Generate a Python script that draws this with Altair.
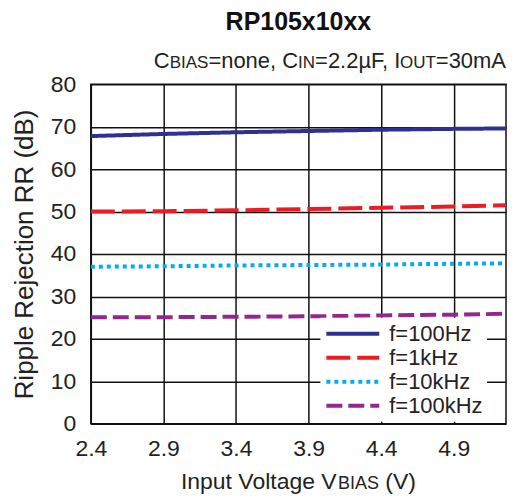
import altair as alt
import pandas as pd

vbias = [2.4, 2.9, 3.4, 3.9, 4.4, 4.9, 5.26]
rr_100hz = [67.8, 68.3, 68.7, 69.0, 69.3, 69.5, 69.6]
rr_1khz = [50.0, 50.1, 50.3, 50.6, 50.9, 51.2, 51.5]
rr_10khz = [37.0, 37.1, 37.3, 37.4, 37.5, 37.7, 37.8]
rr_100khz = [25.1, 25.1, 25.2, 25.3, 25.5, 25.7, 25.9]
series = ["f=100Hz", "f=1kHz", "f=10kHz", "f=100kHz"]
colors = ["#2E3192", "#ED1C24", "#00AEEF", "#92278F"]
dashes = [[1, 0], [24, 7], [4, 4], [16, 6]]
x_ticks = [2.4, 2.9, 3.4, 3.9, 4.4, 4.9]
y_ticks = [0, 10, 20, 30, 40, 50, 60, 70, 80]
title_text = "RP105x10xx"
# (text, is_small_caps)
subtitle_parts = [("C", False), ("BIAS", True), ("=none, C", False), ("IN", True),
                  ("=2.2µF, I", False), ("OUT", True), ("=30mA", False)]
xtitle_parts = [("Input Voltage V", False), ("BIAS", True), (" (V)", False)]
ytitle_text = "Ripple Rejection RR (dB)"

rows = []
for name, vals in zip(series, [rr_100hz, rr_1khz, rr_10khz, rr_100khz]):
    for x, y in zip(vbias, vals):
        rows.append({"V": x, "RR": y, "f": name})
df = pd.DataFrame(rows)

font = "Liberation Sans"
W, H = 416, 340
INK = "#222"

# approximate advance widths (em) for laying out small-caps runs
CW = {'C': .722, 'B': .667, 'I': .278, 'A': .667, 'S': .667, '=': .584, 'n': .556,
      'o': .556, 'e': .556, ',': .278, ' ': .278, 'N': .722, '2': .556, '.': .278,
      'µ': .45, 'F': .611, 'O': .778, 'U': .722, 'T': .611, '3': .556, '0': .556,
      'm': .833, 'V': .667, 'p': .556, 'u': .556, 't': .278, 'l': .222, 'a': .556,
      'g': .556, '(': .333, ')': .333}


def run_width(s, fs):
    return sum(CW.get(c, .556) for c in s) * fs


def text_runs(parts, big, small, x_start, y_base):
    layers = []
    x = x_start
    for txt, sc in parts:
        fs = small if sc else big
        lead = len(txt) - len(txt.lstrip(" "))
        x += run_width(" " * lead, fs)
        body = txt.lstrip(" ")
        layers.append(
            alt.Chart(pd.DataFrame({"t": [body]})).mark_text(
                align="left", baseline="alphabetic", font=font, fontSize=fs, color=INK
            ).encode(x=alt.value(x), y=alt.value(y_base), text="t:N")
        )
        x += run_width(body, fs)
    return layers


def total_width(parts, big, small):
    return sum(run_width(t, small if sc else big) for t, sc in parts)


lines = alt.Chart(df).mark_line(strokeWidth=4, clip=True).encode(
    x=alt.X("V:Q", scale=alt.Scale(domain=[2.4, 5.26], nice=False, zero=False),
            axis=alt.Axis(values=x_ticks, title=None, format=".1f", labelFlush=False)),
    y=alt.Y("RR:Q", scale=alt.Scale(domain=[0, 80], nice=False),
            axis=alt.Axis(values=y_ticks, title=ytitle_text)),
    color=alt.Color("f:N", sort=series,
                    scale=alt.Scale(domain=series, range=colors),
                    legend=alt.Legend(title=None, orient="none", legendX=230, legendY=234,
                                      fillColor="white", symbolType="stroke", symbolSize=2809,
                                      symbolStrokeWidth=4, labelFontSize=22, labelFont=font,
                                      labelColor=INK, rowPadding=0, labelOffset=8,
                                      clipHeight=24, padding=4)),
    strokeDash=alt.StrokeDash("f:N", sort=series,
                              scale=alt.Scale(domain=series, range=dashes),
                              legend=None),
)

SUB_BIG, SUB_SMALL = 22, 17
sub_layers = text_runs(subtitle_parts, SUB_BIG, SUB_SMALL,
                       W - total_width(subtitle_parts, SUB_BIG, SUB_SMALL), -16)
XT_BIG, XT_SMALL = 23, 18
xt_layers = text_runs(xtitle_parts, XT_BIG, XT_SMALL,
                      W / 2 - total_width(xtitle_parts, XT_BIG, XT_SMALL) / 2, H + 65)

chart = alt.layer(lines, *sub_layers, *xt_layers).properties(
    width=W, height=H,
    padding={"left": 3, "top": 2, "right": 1, "bottom": 0},
    title=alt.TitleParams(title_text, font=font, fontSize=25, fontWeight="bold",
                          color="#111", anchor="middle", frame="group", offset=15),
).configure_axis(
    labelFont=font, titleFont=font, labelFontSize=23, titleFontSize=26,
    labelColor=INK, titleColor=INK, titleFontWeight="normal",
    grid=True, gridColor="#111", gridWidth=1.5, gridOpacity=1,
    domain=False, ticks=False,
).configure_axisX(labelPadding=14).configure_axisY(
    titlePadding=13, labelPadding=15
).configure_view(
    stroke="#111", strokeWidth=1.5
)

chart.save("out.html", embed_options={"renderer": "svg", "actions": False})
